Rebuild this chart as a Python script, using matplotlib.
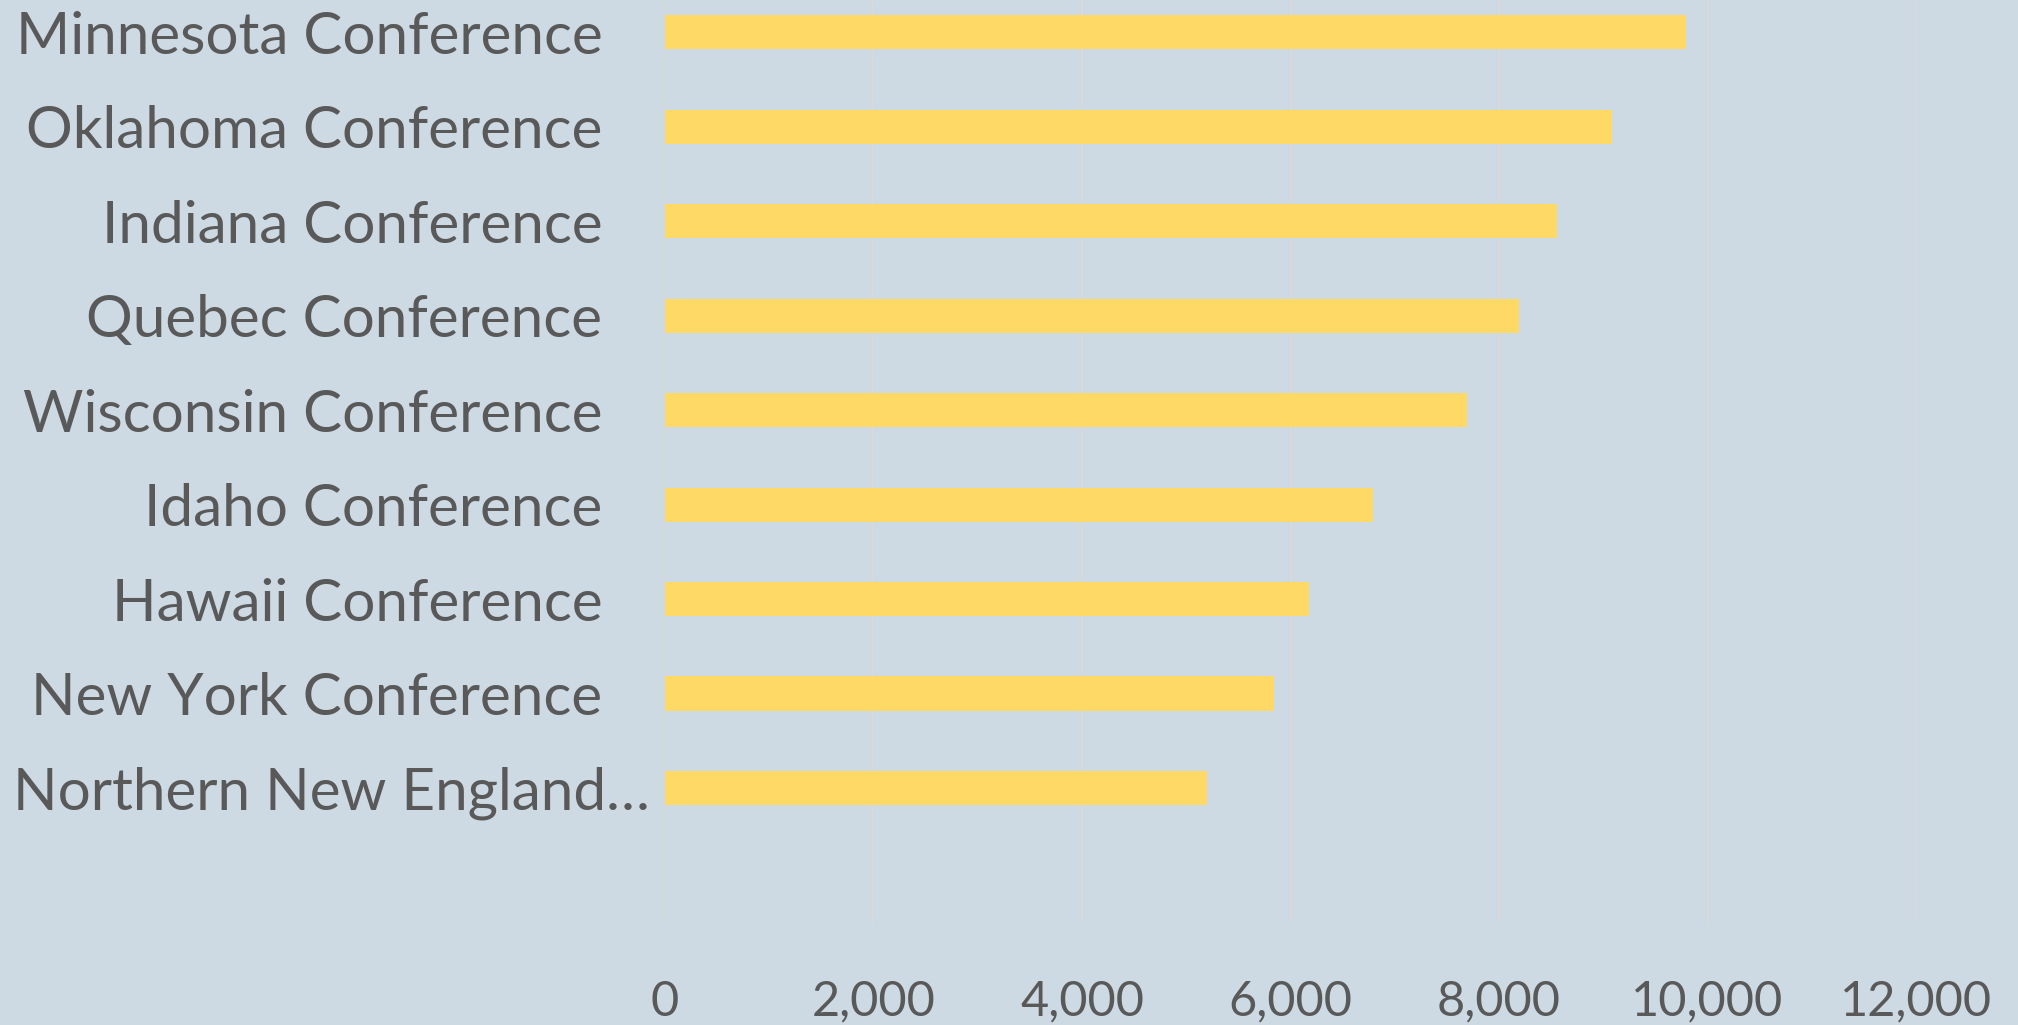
import matplotlib
matplotlib.use("Agg")
import matplotlib.pyplot as plt
import matplotlib.ticker as ticker
from matplotlib.transforms import ScaledTranslation

conferences = ["Minnesota Conference", "Oklahoma Conference", "Indiana Conference",
               "Quebec Conference", "Wisconsin Conference", "Idaho Conference",
               "Hawaii Conference", "New York Conference", "Northern New England…"]
values = [9790, 9080, 8560, 8190, 7690, 6790, 6180, 5840, 5200]
x_ticks = [0, 2000, 4000, 6000, 8000, 10000, 12000]

bg = "#CDDAE3"
text_col = "#595959"

plt.rcParams['font.family'] = ['Lato', 'DejaVu Sans']

fig = plt.figure(figsize=(20.18, 10.25), dpi=100)
fig.patch.set_facecolor(bg)
ax = fig.add_axes([0.3295, 0.0985, 0.62, 0.9015])
ax.set_facecolor(bg)

pos = list(range(len(conferences)))
ax.barh(pos, values, height=0.36, color="#FFD966", zorder=3)

ax.set_xlim(0, 12000)
ax.set_ylim(9.44, -0.34)
ax.set_xticks(x_ticks)
ax.xaxis.set_major_formatter(ticker.FuncFormatter(lambda v, p: f"{int(v):,}"))
ax.set_yticks(pos)
ax.set_yticklabels(conferences)
ax.grid(axis="x", color="#D9D9D9", linewidth=1.5, zorder=0)
ax.grid(axis="y", visible=False)
for s in ax.spines.values():
    s.set_visible(False)

ax.tick_params(axis="y", length=0, pad=45, labelsize=42, labelcolor=text_col)
ax.tick_params(axis="x", length=0, pad=40, labelsize=35, labelcolor=text_col)

# truncated last label sits left aligned, like excel does it
lab = ax.get_yticklabels()[-1]
lab.set_horizontalalignment("left")
lab.set_transform(lab.get_transform() + ScaledTranslation(-5.89, 0, fig.dpi_scale_trans))

fig.savefig("out.png", dpi=100, facecolor=bg)
